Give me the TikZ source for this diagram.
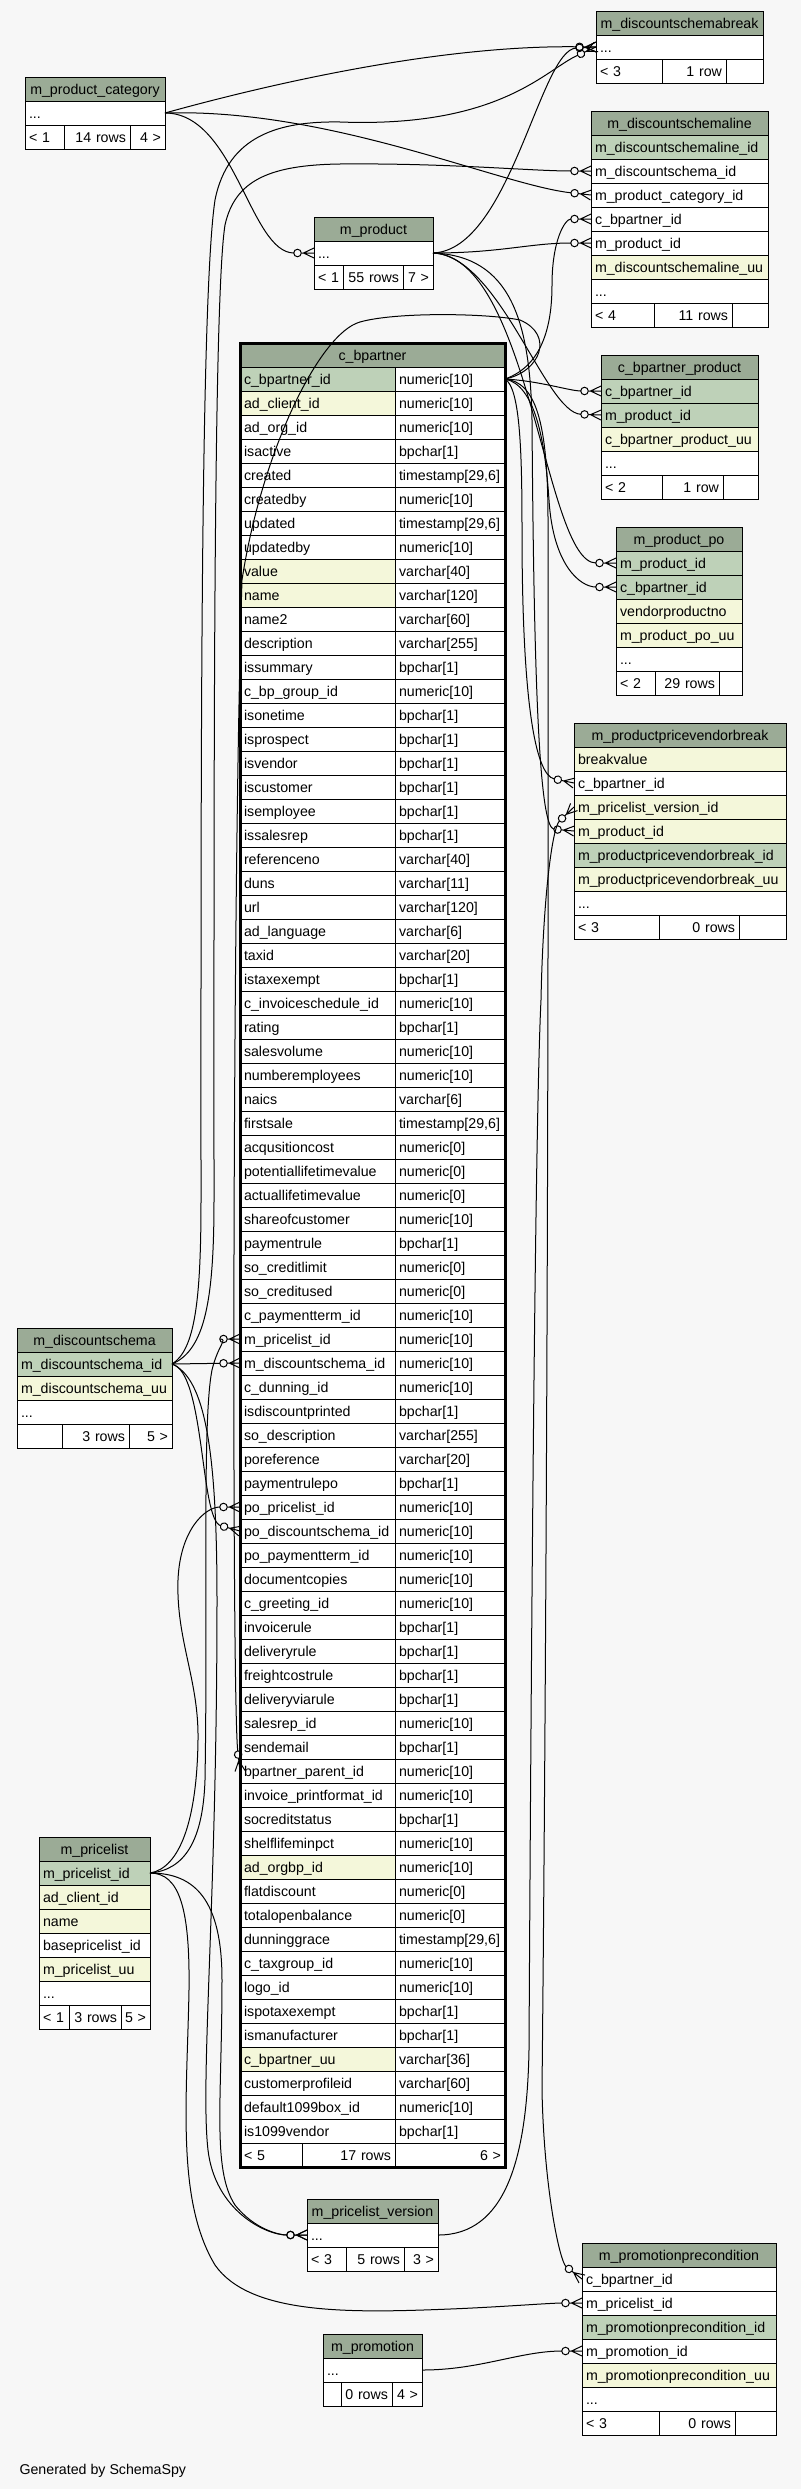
\documentclass[tikz,border=0pt]{standalone}
\usepackage{fontspec}
\setmainfont{Liberation Sans}
\usetikzlibrary{positioning}
\usetikzlibrary{arrows.meta}

\definecolor{bgcol}{HTML}{F7F7F7}
\definecolor{headcol}{HTML}{9BAB96}
\definecolor{pkcol}{HTML}{BED1B8}
\definecolor{idxcol}{HTML}{F4F7DA}

\newcommand{\cellfont}{\fontsize{14.2}{16}\selectfont}
\hyphenpenalty=10000
\exhyphenpenalty=10000

% zero-or-many end (circle + crow's foot)
\pgfdeclarearrow{
  name = Crow,
  setup code = {
    \pgfarrowssettipend{0pt}
    \pgfarrowssetbackend{-20pt}
    \pgfarrowssetlineend{-20pt}
    \pgfarrowsupperhullpoint{0pt}{5pt}
    \pgfarrowsupperhullpoint{-20pt}{5pt}
  },
  drawing code = {
    \pgfsetdash{}{0pt}
    \pgfpathmoveto{\pgfqpoint{0pt}{5pt}}
    \pgfpathlineto{\pgfqpoint{-10.5pt}{0pt}}
    \pgfpathlineto{\pgfqpoint{0pt}{-5pt}}
    \pgfpathmoveto{\pgfqpoint{0pt}{0pt}}
    \pgfpathlineto{\pgfqpoint{-12.75pt}{0pt}}
    \pgfusepathqstroke
    \pgfpathcircle{\pgfqpoint{-16.5pt}{0pt}}{3.75pt}
    \pgfusepathqstroke
  },
}

\tikzset{
  tcell/.style={draw, fill=white, inner sep=0pt, inner xsep=4pt, outer sep=0pt,
    minimum height=24pt, text height=10.3pt, text depth=0pt, align=left, font=\cellfont},
  thead/.style={tcell, fill=headcol, align=center},
  tpk/.style={fill=pkcol},
  tidx/.style={fill=idxcol},
  tright/.style={align=right},
  fk/.style={line width=1pt, -Crow},
}

\begin{document}
\begin{tikzpicture}[x=1pt, y=-1pt,
  cbname/.style={tcell, text width=147pt},
  cbtype/.style={tcell, text width=102pt}]
\fill[bgcol] (0,0) rectangle (801,2489);
\useasboundingbox (0,0) rectangle (801,2489);

% m_discountschemabreak
\node[thead, text width=159pt, anchor=north west] (dsbh) at (596,11) {m\_discountschemabreak};
\node[tcell, text width=159pt, below=0pt of dsbh] (dsb1) {...};
\node[tcell, text width=58pt, anchor=north west] (dsbf1) at (dsb1.south west) {< 3};
\node[tcell, tright, text width=56pt, right=0pt of dsbf1] (dsbf2) {1 row};
\node[tcell, tright, text width=29pt, right=0pt of dsbf2] (dsbf3) {};

% m_product_category
\node[thead, text width=132pt, anchor=north west] (pch) at (25,77) {m\_product\_category};
\node[tcell, text width=132pt, below=0pt of pch] (pc1) {...};
\node[tcell, text width=31pt, anchor=north west] (pcf1) at (pc1.south west) {< 1};
\node[tcell, tright, text width=58pt, right=0pt of pcf1] (pcf2) {14 rows};
\node[tcell, tright, text width=27pt, right=0pt of pcf2] (pcf3) {4 >};

% m_discountschemaline
\node[thead, text width=169pt, anchor=north west] (dslh) at (591,111) {m\_discountschemaline};
\node[tcell, tpk, text width=169pt, below=0pt of dslh] (dsl1) {m\_discountschemaline\_id};
\node[tcell, text width=169pt, below=0pt of dsl1] (dsl2) {m\_discountschema\_id};
\node[tcell, text width=169pt, below=0pt of dsl2] (dsl3) {m\_product\_category\_id};
\node[tcell, text width=169pt, below=0pt of dsl3] (dsl4) {c\_bpartner\_id};
\node[tcell, text width=169pt, below=0pt of dsl4] (dsl5) {m\_product\_id};
\node[tcell, tidx, text width=169pt, below=0pt of dsl5] (dsl6) {m\_discountschemaline\_uu};
\node[tcell, text width=169pt, below=0pt of dsl6] (dsl7) {...};
\node[tcell, text width=55pt, anchor=north west] (dslf1) at (dsl7.south west) {< 4};
\node[tcell, tright, text width=70pt, right=0pt of dslf1] (dslf2) {11 rows};
\node[tcell, tright, text width=28pt, right=0pt of dslf2] (dslf3) {};

% m_product
\node[thead, text width=111pt, anchor=north west] (prh) at (314,217) {m\_product};
\node[tcell, text width=111pt, below=0pt of prh] (pr1) {...};
\node[tcell, text width=21pt, anchor=north west] (prf1) at (pr1.south west) {< 1};
\node[tcell, tright, text width=52pt, right=0pt of prf1] (prf2) {55 rows};
\node[tcell, tright, text width=22pt, right=0pt of prf2] (prf3) {7 >};

% c_bpartner_product
\node[thead, text width=149pt, anchor=north west] (cbph) at (601,355) {c\_bpartner\_product};
\node[tcell, tpk, text width=149pt, below=0pt of cbph] (cbp1) {c\_bpartner\_id};
\node[tcell, tpk, text width=149pt, below=0pt of cbp1] (cbp2) {m\_product\_id};
\node[tcell, tidx, text width=149pt, below=0pt of cbp2] (cbp3) {c\_bpartner\_product\_uu};
\node[tcell, text width=149pt, below=0pt of cbp3] (cbp4) {...};
\node[tcell, text width=53pt, anchor=north west] (cbpf1) at (cbp4.south west) {< 2};
\node[tcell, tright, text width=53pt, right=0pt of cbpf1] (cbpf2) {1 row};
\node[tcell, tright, text width=27pt, right=0pt of cbpf2] (cbpf3) {};

% m_product_po
\node[thead, text width=118pt, anchor=north west] (ppoh) at (616,527) {m\_product\_po};
\node[tcell, tpk, text width=118pt, below=0pt of ppoh] (ppo1) {m\_product\_id};
\node[tcell, tpk, text width=118pt, below=0pt of ppo1] (ppo2) {c\_bpartner\_id};
\node[tcell, tidx, text width=118pt, below=0pt of ppo2] (ppo3) {vendorproductno};
\node[tcell, tidx, text width=118pt, below=0pt of ppo3] (ppo4) {m\_product\_po\_uu};
\node[tcell, text width=118pt, below=0pt of ppo4] (ppo5) {...};
\node[tcell, text width=31pt, anchor=north west] (ppof1) at (ppo5.south west) {< 2};
\node[tcell, tright, text width=56pt, right=0pt of ppof1] (ppof2) {29 rows};
\node[tcell, tright, text width=15pt, right=0pt of ppof2] (ppof3) {};

% m_productpricevendorbreak
\node[thead, text width=204pt, anchor=north west] (ppvbh) at (574,723) {m\_productpricevendorbreak};
\node[tcell, tidx, text width=204pt, below=0pt of ppvbh] (ppvb1) {breakvalue};
\node[tcell, text width=204pt, below=0pt of ppvb1] (ppvb2) {c\_bpartner\_id};
\node[tcell, tidx, text width=204pt, below=0pt of ppvb2] (ppvb3) {m\_pricelist\_version\_id};
\node[tcell, tidx, text width=204pt, below=0pt of ppvb3] (ppvb4) {m\_product\_id};
\node[tcell, tpk, text width=204pt, below=0pt of ppvb4] (ppvb5) {m\_productpricevendorbreak\_id};
\node[tcell, tidx, text width=204pt, below=0pt of ppvb5] (ppvb6) {m\_productpricevendorbreak\_uu};
\node[tcell, text width=204pt, below=0pt of ppvb6] (ppvb7) {...};
\node[tcell, text width=77pt, anchor=north west] (ppvbf1) at (ppvb7.south west) {< 3};
\node[tcell, tright, text width=72pt, right=0pt of ppvbf1] (ppvbf2) {0 rows};
\node[tcell, tright, text width=39pt, right=0pt of ppvbf2] (ppvbf3) {};

% m_discountschema
\node[thead, text width=147pt, anchor=north west] (dsh) at (17,1328) {m\_discountschema};
\node[tcell, tpk, text width=147pt, below=0pt of dsh] (ds1) {m\_discountschema\_id};
\node[tcell, tidx, text width=147pt, below=0pt of ds1] (ds2) {m\_discountschema\_uu};
\node[tcell, text width=147pt, below=0pt of ds2] (ds3) {...};
\node[tcell, text width=37pt, anchor=north west] (dsf1) at (ds3.south west) {};
\node[tcell, tright, text width=59pt, right=0pt of dsf1] (dsf2) {3 rows};
\node[tcell, tright, text width=35pt, right=0pt of dsf2] (dsf3) {5 >};

% m_pricelist
\node[thead, text width=103pt, anchor=north west] (plh) at (39,1837) {m\_pricelist};
\node[tcell, tpk, text width=103pt, below=0pt of plh] (pl1) {m\_pricelist\_id};
\node[tcell, tidx, text width=103pt, below=0pt of pl1] (pl2) {ad\_client\_id};
\node[tcell, tidx, text width=103pt, below=0pt of pl2] (pl3) {name};
\node[tcell, text width=103pt, below=0pt of pl3] (pl4) {basepricelist\_id};
\node[tcell, tidx, text width=103pt, below=0pt of pl4] (pl5) {m\_pricelist\_uu};
\node[tcell, text width=103pt, below=0pt of pl5] (pl6) {...};
\node[tcell, text width=22pt, anchor=north west] (plf1) at (pl6.south west) {< 1};
\node[tcell, tright, text width=44pt, right=0pt of plf1] (plf2) {3 rows};
\node[tcell, tright, text width=21pt, right=0pt of plf2] (plf3) {5 >};

% m_pricelist_version
\node[thead, text width=123pt, anchor=north west] (plvh) at (307,2199) {m\_pricelist\_version};
\node[tcell, text width=123pt, below=0pt of plvh] (plv1) {...};
\node[tcell, text width=31pt, anchor=north west] (plvf1) at (plv1.south west) {< 3};
\node[tcell, tright, text width=50pt, right=0pt of plvf1] (plvf2) {5 rows};
\node[tcell, tright, text width=26pt, right=0pt of plvf2] (plvf3) {3 >};

% m_promotionprecondition
\node[thead, text width=186pt, anchor=north west] (ppch) at (582,2243) {m\_promotionprecondition};
\node[tcell, text width=186pt, below=0pt of ppch] (ppc1) {c\_bpartner\_id};
\node[tcell, text width=186pt, below=0pt of ppc1] (ppc2) {m\_pricelist\_id};
\node[tcell, tpk, text width=186pt, below=0pt of ppc2] (ppc3) {m\_promotionprecondition\_id};
\node[tcell, text width=186pt, below=0pt of ppc3] (ppc4) {m\_promotion\_id};
\node[tcell, tidx, text width=186pt, below=0pt of ppc4] (ppc5) {m\_promotionprecondition\_uu};
\node[tcell, text width=186pt, below=0pt of ppc5] (ppc6) {...};
\node[tcell, text width=69pt, anchor=north west] (ppcf1) at (ppc6.south west) {< 3};
\node[tcell, tright, text width=68pt, right=0pt of ppcf1] (ppcf2) {0 rows};
\node[tcell, tright, text width=33pt, right=0pt of ppcf2] (ppcf3) {};

% m_promotion
\node[thead, text width=91pt, anchor=north west] (pmh) at (323,2334) {m\_promotion};
\node[tcell, text width=91pt, below=0pt of pmh] (pm1) {...};
\node[tcell, text width=10pt, anchor=north west] (pmf1) at (pm1.south west) {};
\node[tcell, tright, text width=43pt, right=0pt of pmf1] (pmf2) {0 rows};
\node[tcell, tright, text width=22pt, right=0pt of pmf2] (pmf3) {4 >};

% c_bpartner
\node[thead, text width=257pt, anchor=north west] (cbh) at (240,343) {c\_bpartner};
\node[cbname, tpk, anchor=north west] (cb1) at (cbh.south west) {c\_bpartner\_id}; \node[cbtype, right=0pt of cb1] (cbt1) {numeric[10]};
\node[cbname, tidx, below=0pt of cb1] (cb2) {ad\_client\_id}; \node[cbtype, right=0pt of cb2] (cbt2) {numeric[10]};
\node[cbname, below=0pt of cb2] (cb3) {ad\_org\_id}; \node[cbtype, right=0pt of cb3] (cbt3) {numeric[10]};
\node[cbname, below=0pt of cb3] (cb4) {isactive}; \node[cbtype, right=0pt of cb4] (cbt4) {bpchar[1]};
\node[cbname, below=0pt of cb4] (cb5) {created}; \node[cbtype, right=0pt of cb5] (cbt5) {timestamp[29,6]};
\node[cbname, below=0pt of cb5] (cb6) {createdby}; \node[cbtype, right=0pt of cb6] (cbt6) {numeric[10]};
\node[cbname, below=0pt of cb6] (cb7) {updated}; \node[cbtype, right=0pt of cb7] (cbt7) {timestamp[29,6]};
\node[cbname, below=0pt of cb7] (cb8) {updatedby}; \node[cbtype, right=0pt of cb8] (cbt8) {numeric[10]};
\node[cbname, tidx, below=0pt of cb8] (cb9) {value}; \node[cbtype, right=0pt of cb9] (cbt9) {varchar[40]};
\node[cbname, tidx, below=0pt of cb9] (cb10) {name}; \node[cbtype, right=0pt of cb10] (cbt10) {varchar[120]};
\node[cbname, below=0pt of cb10] (cb11) {name2}; \node[cbtype, right=0pt of cb11] (cbt11) {varchar[60]};
\node[cbname, below=0pt of cb11] (cb12) {description}; \node[cbtype, right=0pt of cb12] (cbt12) {varchar[255]};
\node[cbname, below=0pt of cb12] (cb13) {issummary}; \node[cbtype, right=0pt of cb13] (cbt13) {bpchar[1]};
\node[cbname, below=0pt of cb13] (cb14) {c\_bp\_group\_id}; \node[cbtype, right=0pt of cb14] (cbt14) {numeric[10]};
\node[cbname, below=0pt of cb14] (cb15) {isonetime}; \node[cbtype, right=0pt of cb15] (cbt15) {bpchar[1]};
\node[cbname, below=0pt of cb15] (cb16) {isprospect}; \node[cbtype, right=0pt of cb16] (cbt16) {bpchar[1]};
\node[cbname, below=0pt of cb16] (cb17) {isvendor}; \node[cbtype, right=0pt of cb17] (cbt17) {bpchar[1]};
\node[cbname, below=0pt of cb17] (cb18) {iscustomer}; \node[cbtype, right=0pt of cb18] (cbt18) {bpchar[1]};
\node[cbname, below=0pt of cb18] (cb19) {isemployee}; \node[cbtype, right=0pt of cb19] (cbt19) {bpchar[1]};
\node[cbname, below=0pt of cb19] (cb20) {issalesrep}; \node[cbtype, right=0pt of cb20] (cbt20) {bpchar[1]};
\node[cbname, below=0pt of cb20] (cb21) {referenceno}; \node[cbtype, right=0pt of cb21] (cbt21) {varchar[40]};
\node[cbname, below=0pt of cb21] (cb22) {duns}; \node[cbtype, right=0pt of cb22] (cbt22) {varchar[11]};
\node[cbname, below=0pt of cb22] (cb23) {url}; \node[cbtype, right=0pt of cb23] (cbt23) {varchar[120]};
\node[cbname, below=0pt of cb23] (cb24) {ad\_language}; \node[cbtype, right=0pt of cb24] (cbt24) {varchar[6]};
\node[cbname, below=0pt of cb24] (cb25) {taxid}; \node[cbtype, right=0pt of cb25] (cbt25) {varchar[20]};
\node[cbname, below=0pt of cb25] (cb26) {istaxexempt}; \node[cbtype, right=0pt of cb26] (cbt26) {bpchar[1]};
\node[cbname, below=0pt of cb26] (cb27) {c\_invoiceschedule\_id}; \node[cbtype, right=0pt of cb27] (cbt27) {numeric[10]};
\node[cbname, below=0pt of cb27] (cb28) {rating}; \node[cbtype, right=0pt of cb28] (cbt28) {bpchar[1]};
\node[cbname, below=0pt of cb28] (cb29) {salesvolume}; \node[cbtype, right=0pt of cb29] (cbt29) {numeric[10]};
\node[cbname, below=0pt of cb29] (cb30) {numberemployees}; \node[cbtype, right=0pt of cb30] (cbt30) {numeric[10]};
\node[cbname, below=0pt of cb30] (cb31) {naics}; \node[cbtype, right=0pt of cb31] (cbt31) {varchar[6]};
\node[cbname, below=0pt of cb31] (cb32) {firstsale}; \node[cbtype, right=0pt of cb32] (cbt32) {timestamp[29,6]};
\node[cbname, below=0pt of cb32] (cb33) {acqusitioncost}; \node[cbtype, right=0pt of cb33] (cbt33) {numeric[0]};
\node[cbname, below=0pt of cb33] (cb34) {potentiallifetimevalue}; \node[cbtype, right=0pt of cb34] (cbt34) {numeric[0]};
\node[cbname, below=0pt of cb34] (cb35) {actuallifetimevalue}; \node[cbtype, right=0pt of cb35] (cbt35) {numeric[0]};
\node[cbname, below=0pt of cb35] (cb36) {shareofcustomer}; \node[cbtype, right=0pt of cb36] (cbt36) {numeric[10]};
\node[cbname, below=0pt of cb36] (cb37) {paymentrule}; \node[cbtype, right=0pt of cb37] (cbt37) {bpchar[1]};
\node[cbname, below=0pt of cb37] (cb38) {so\_creditlimit}; \node[cbtype, right=0pt of cb38] (cbt38) {numeric[0]};
\node[cbname, below=0pt of cb38] (cb39) {so\_creditused}; \node[cbtype, right=0pt of cb39] (cbt39) {numeric[0]};
\node[cbname, below=0pt of cb39] (cb40) {c\_paymentterm\_id}; \node[cbtype, right=0pt of cb40] (cbt40) {numeric[10]};
\node[cbname, below=0pt of cb40] (cb41) {m\_pricelist\_id}; \node[cbtype, right=0pt of cb41] (cbt41) {numeric[10]};
\node[cbname, below=0pt of cb41] (cb42) {m\_discountschema\_id}; \node[cbtype, right=0pt of cb42] (cbt42) {numeric[10]};
\node[cbname, below=0pt of cb42] (cb43) {c\_dunning\_id}; \node[cbtype, right=0pt of cb43] (cbt43) {numeric[10]};
\node[cbname, below=0pt of cb43] (cb44) {isdiscountprinted}; \node[cbtype, right=0pt of cb44] (cbt44) {bpchar[1]};
\node[cbname, below=0pt of cb44] (cb45) {so\_description}; \node[cbtype, right=0pt of cb45] (cbt45) {varchar[255]};
\node[cbname, below=0pt of cb45] (cb46) {poreference}; \node[cbtype, right=0pt of cb46] (cbt46) {varchar[20]};
\node[cbname, below=0pt of cb46] (cb47) {paymentrulepo}; \node[cbtype, right=0pt of cb47] (cbt47) {bpchar[1]};
\node[cbname, below=0pt of cb47] (cb48) {po\_pricelist\_id}; \node[cbtype, right=0pt of cb48] (cbt48) {numeric[10]};
\node[cbname, below=0pt of cb48] (cb49) {po\_discountschema\_id}; \node[cbtype, right=0pt of cb49] (cbt49) {numeric[10]};
\node[cbname, below=0pt of cb49] (cb50) {po\_paymentterm\_id}; \node[cbtype, right=0pt of cb50] (cbt50) {numeric[10]};
\node[cbname, below=0pt of cb50] (cb51) {documentcopies}; \node[cbtype, right=0pt of cb51] (cbt51) {numeric[10]};
\node[cbname, below=0pt of cb51] (cb52) {c\_greeting\_id}; \node[cbtype, right=0pt of cb52] (cbt52) {numeric[10]};
\node[cbname, below=0pt of cb52] (cb53) {invoicerule}; \node[cbtype, right=0pt of cb53] (cbt53) {bpchar[1]};
\node[cbname, below=0pt of cb53] (cb54) {deliveryrule}; \node[cbtype, right=0pt of cb54] (cbt54) {bpchar[1]};
\node[cbname, below=0pt of cb54] (cb55) {freightcostrule}; \node[cbtype, right=0pt of cb55] (cbt55) {bpchar[1]};
\node[cbname, below=0pt of cb55] (cb56) {deliveryviarule}; \node[cbtype, right=0pt of cb56] (cbt56) {bpchar[1]};
\node[cbname, below=0pt of cb56] (cb57) {salesrep\_id}; \node[cbtype, right=0pt of cb57] (cbt57) {numeric[10]};
\node[cbname, below=0pt of cb57] (cb58) {sendemail}; \node[cbtype, right=0pt of cb58] (cbt58) {bpchar[1]};
\node[cbname, below=0pt of cb58] (cb59) {bpartner\_parent\_id}; \node[cbtype, right=0pt of cb59] (cbt59) {numeric[10]};
\node[cbname, below=0pt of cb59] (cb60) {invoice\_printformat\_id}; \node[cbtype, right=0pt of cb60] (cbt60) {numeric[10]};
\node[cbname, below=0pt of cb60] (cb61) {socreditstatus}; \node[cbtype, right=0pt of cb61] (cbt61) {bpchar[1]};
\node[cbname, below=0pt of cb61] (cb62) {shelflifeminpct}; \node[cbtype, right=0pt of cb62] (cbt62) {numeric[10]};
\node[cbname, tidx, below=0pt of cb62] (cb63) {ad\_orgbp\_id}; \node[cbtype, right=0pt of cb63] (cbt63) {numeric[10]};
\node[cbname, below=0pt of cb63] (cb64) {flatdiscount}; \node[cbtype, right=0pt of cb64] (cbt64) {numeric[0]};
\node[cbname, below=0pt of cb64] (cb65) {totalopenbalance}; \node[cbtype, right=0pt of cb65] (cbt65) {numeric[0]};
\node[cbname, below=0pt of cb65] (cb66) {dunninggrace}; \node[cbtype, right=0pt of cb66] (cbt66) {timestamp[29,6]};
\node[cbname, below=0pt of cb66] (cb67) {c\_taxgroup\_id}; \node[cbtype, right=0pt of cb67] (cbt67) {numeric[10]};
\node[cbname, below=0pt of cb67] (cb68) {logo\_id}; \node[cbtype, right=0pt of cb68] (cbt68) {numeric[10]};
\node[cbname, below=0pt of cb68] (cb69) {ispotaxexempt}; \node[cbtype, right=0pt of cb69] (cbt69) {bpchar[1]};
\node[cbname, below=0pt of cb69] (cb70) {ismanufacturer}; \node[cbtype, right=0pt of cb70] (cbt70) {bpchar[1]};
\node[cbname, tidx, below=0pt of cb70] (cb71) {c\_bpartner\_uu}; \node[cbtype, right=0pt of cb71] (cbt71) {varchar[36]};
\node[cbname, below=0pt of cb71] (cb72) {customerprofileid}; \node[cbtype, right=0pt of cb72] (cbt72) {varchar[60]};
\node[cbname, below=0pt of cb72] (cb73) {default1099box\_id}; \node[cbtype, right=0pt of cb73] (cbt73) {numeric[10]};
\node[cbname, below=0pt of cb73] (cb74) {is1099vendor}; \node[cbtype, right=0pt of cb74] (cbt74) {bpchar[1]};
\node[tcell, text width=54pt, anchor=north west] (cbf1) at (cb74.south west) {< 5};
\node[tcell, tright, text width=85pt, right=0pt of cbf1] (cbf2) {17 rows};
\node[tcell, tright, text width=102pt, right=0pt of cbf2] (cbf3) {6 >};
\draw[line width=3pt] (cbh.north west) rectangle (cbf3.south east);

% relationships
\draw[fk] (pc1.east) .. controls (230,95) and (420,45) .. (dsb1.west);
\draw[fk] (pc1.east) .. controls (330,108) and (500,185) .. (dsl3.west);
\draw[fk] (pc1.east) .. controls (235,113) and (250,253) .. (pr1.west);

\draw[fk] (pr1.east) .. controls (510,250) and (540,50) .. (dsb1.west);
\draw[fk] (pr1.east) .. controls (500,253) and (530,243) .. (dsl5.west);
\draw[fk] (pr1.east) .. controls (500,256) and (545,413) .. (cbp2.west);
\draw[fk] (pr1.east) .. controls (530,256) and (545,563) .. (ppo1.west);
\draw[fk] (pr1.east) .. controls (510,256) and (530,320) .. (532,420)
  .. controls (534,700) and (540,828) .. (ppvb4.west);

\draw[fk] (cbt1.east) .. controls (545,365) and (552,320) .. (552,285)
  .. controls (552,240) and (565,219) .. (dsl4.west);
\draw[fk] (cbt1.east) .. controls (540,381) and (570,391) .. (cbp1.west);
\draw[fk] (cbt1.east) .. controls (535,385) and (545,440) .. (549,500)
  .. controls (553,565) and (580,587) .. (ppo2.west);
\draw[fk] (cbt1.east) .. controls (520,388) and (522,450) .. (522,530)
  .. controls (522,700) and (535,775) .. (ppvb2.west);
\draw[fk] (cbt1.east) .. controls (535,382) and (548,420) .. (548,520)
  .. controls (549,1200) and (545,1800) .. (542,2090)
  .. controls (544,2190) and (560,2262) .. (ppc1.west);
\draw[fk] (cbt1.east) .. controls (540,372) and (555,335) .. (520,320)
  .. controls (485,313) and (395,312) .. (360,322)
  .. controls (320,333) and (262,450) .. (242,580)
  .. controls (232,900) and (232,1700) .. (cb59.west);

\draw[fk] (ds1.east) .. controls (195,1350) and (201,1300) .. (201,1200)
  .. controls (201,800) and (200,300) .. (215,200)
  .. controls (228,135) and (280,121) .. (340,122)
  .. controls (500,128) and (545,70) .. (dsb1.west);
\draw[fk] (ds1.east) .. controls (205,1350) and (214,1300) .. (214,1200)
  .. controls (214,800) and (213,300) .. (225,225)
  .. controls (235,180) and (270,165) .. (340,164)
  .. controls (450,163) and (530,171) .. (dsl2.west);
\draw[fk] (ds1.east) -- (cb42.west);
\draw[fk] (ds1.east) .. controls (205,1372) and (200,1520) .. (cb49.west);
\draw[fk] (ds1.east) .. controls (205,1378) and (217,1450) .. (217,1600)
  .. controls (217,1900) and (200,2080) .. (208,2150)
  .. controls (215,2210) and (265,2235) .. (plv1.west);

\draw[fk] (pl1.east) .. controls (185,1870) and (203,1840) .. (205,1780)
  .. controls (208,1600) and (202,1420) .. (212,1370)
  .. controls (218,1345) and (228,1339) .. (cb41.west);
\draw[fk] (pl1.east) .. controls (180,1868) and (197,1820) .. (198,1740)
  .. controls (199,1680) and (176,1640) .. (178,1580)
  .. controls (180,1530) and (205,1507) .. (cb48.west);
\draw[fk] (pl1.east) .. controls (195,1873) and (222,1900) .. (222,1980)
  .. controls (222,2100) and (212,2170) .. (235,2205)
  .. controls (255,2230) and (280,2235) .. (plv1.west);
\draw[fk] (pl1.east) .. controls (180,1873) and (190,1910) .. (189,1990)
  .. controls (187,2100) and (176,2200) .. (215,2265)
  .. controls (250,2315) and (350,2313) .. (450,2309)
  .. controls (500,2307) and (550,2303) .. (ppc2.west);

\draw[fk] (plv1.east) .. controls (505,2235) and (527,2160) .. (529,2050)
  .. controls (532,1500) and (536,1100) .. (541,1000)
  .. controls (543,900) and (552,828) .. (ppvb3.west);
\draw[fk] (pm1.east) .. controls (480,2370) and (520,2351) .. (ppc4.west);

\node[font=\cellfont, anchor=base west] (gen) at (16,2474) {Generated by SchemaSpy};
\end{tikzpicture}
\end{document}
